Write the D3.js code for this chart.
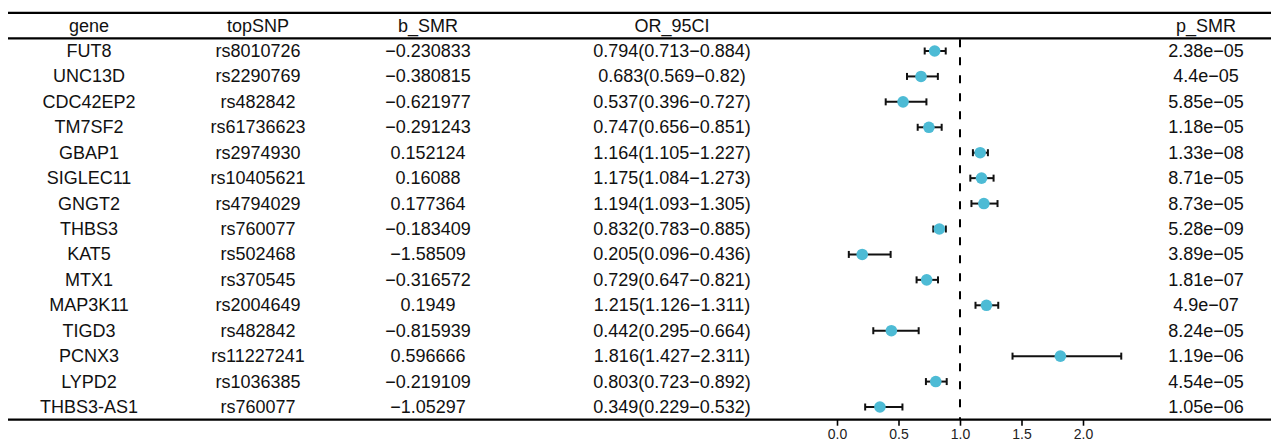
<!DOCTYPE html>
<html><head><meta charset="utf-8">
<script src="https://cdn.jsdelivr.net/npm/d3@7"></script>
<style>body{margin:0;background:#fff}svg{display:block}text{font-family:"Liberation Sans",Arial,sans-serif}</style>
</head><body><svg id="c" width="1271" height="442"></svg>
<script>
const headers = ["gene","topSNP","b_SMR","OR_95CI","","p_SMR"];
const genes = ["FUT8","UNC13D","CDC42EP2","TM7SF2","GBAP1","SIGLEC11","GNGT2","THBS3","KAT5","MTX1","MAP3K11","TIGD3","PCNX3","LYPD2","THBS3-AS1"];
const snps = ["rs8010726","rs2290769","rs482842","rs61736623","rs2974930","rs10405621","rs4794029","rs760077","rs502468","rs370545","rs2004649","rs482842","rs11227241","rs1036385","rs760077"];
const bSMR = [-0.230833,-0.380815,-0.621977,-0.291243,0.152124,0.16088,0.177364,-0.183409,-1.58509,-0.316572,0.1949,-0.815939,0.596666,-0.219109,-1.05297];
const orVal = [0.794,0.683,0.537,0.747,1.164,1.175,1.194,0.832,0.205,0.729,1.215,0.442,1.816,0.803,0.349];
const orLo = [0.713,0.569,0.396,0.656,1.105,1.084,1.093,0.783,0.096,0.647,1.126,0.295,1.427,0.723,0.229];
const orHi = [0.884,0.82,0.727,0.851,1.227,1.273,1.305,0.885,0.436,0.821,1.311,0.664,2.311,0.892,0.532];
const pSMR = ["2.38e-05","4.4e-05","5.85e-05","1.18e-05","1.33e-08","8.71e-05","8.73e-05","5.28e-09","3.89e-05","1.81e-07","4.9e-07","8.24e-05","1.19e-06","4.54e-05","1.05e-06"];
const xTicks = [0,0.5,1,1.5,2];

const minus = s => String(s).replace(/-/g, "\u2212");
const svg = d3.select("#c");
const W = 1271;
const y = d3.scalePoint().domain(d3.range(genes.length)).range([51, 407]);
const step = y.step();
const x = d3.scaleLinear().domain([0, 2]).range([837, 1083]);
const colX = [89, 258, 428, 672, null, 1206];
const fs = 18;

// horizontal rules
const topY = y(0) - step * 1.5, headY = y(0) - step / 2, botY = y(genes.length - 1) + step / 2;
svg.append("line").attr("x1", 8).attr("x2", W).attr("y1", topY).attr("y2", topY).attr("stroke", "#000").attr("stroke-width", 2.2);
svg.append("line").attr("x1", 8).attr("x2", W).attr("y1", headY).attr("y2", headY).attr("stroke", "#000").attr("stroke-width", 2.2);

// headers
headers.forEach((h, j) => {
  if (!h) return;
  svg.append("text").attr("x", colX[j]).attr("y", y(0) - step).attr("text-anchor", "middle")
    .attr("dominant-baseline", "central").attr("font-size", fs).attr("fill", "#111").text(h);
});

// rows
const rows = genes.map((g, i) => [g, snps[i], minus(bSMR[i]), `${orVal[i]}(${orLo[i]}\u2212${orHi[i]})`, null, minus(pSMR[i])]);
rows.forEach((r, i) => {
  r.forEach((t, j) => {
    if (t === null) return;
    svg.append("text").attr("x", colX[j]).attr("y", y(i)).attr("text-anchor", "middle")
      .attr("dominant-baseline", "central").attr("font-size", fs).attr("fill", "#111").text(t);
  });
});

// reference line
svg.append("line").attr("x1", x(1)).attr("x2", x(1)).attr("y1", headY + 1).attr("y2", botY)
  .attr("stroke", "#000").attr("stroke-width", 2).attr("stroke-dasharray", "8,10");

// error bars
const g = svg.append("g");
d3.range(genes.length).forEach(i => {
  const yy = y(i);
  g.append("line").attr("x1", x(orLo[i])).attr("x2", x(orHi[i])).attr("y1", yy).attr("y2", yy).attr("stroke", "#111").attr("stroke-width", 2);
  [orLo[i], orHi[i]].forEach(v => g.append("line").attr("x1", x(v)).attr("x2", x(v)).attr("y1", yy - 3.5).attr("y2", yy + 3.5).attr("stroke", "#111").attr("stroke-width", 2));
  g.append("circle").attr("cx", x(orVal[i])).attr("cy", yy).attr("r", 5.8).attr("fill", "#4DBBD5");
});

// bottom axis
svg.append("line").attr("x1", 8).attr("x2", W).attr("y1", botY).attr("y2", botY).attr("stroke", "#000").attr("stroke-width", 2.2);
const ax = svg.append("g").attr("transform", `translate(0,${botY})`)
  .call(d3.axisBottom(x).tickValues(xTicks).tickFormat(d3.format(".1f")).tickSize(6).tickPadding(5));
ax.select(".domain").remove();
ax.selectAll(".tick line").attr("stroke", "#000").attr("stroke-width", 1.6);
ax.selectAll(".tick text").attr("font-size", 14).attr("fill", "#222").attr("font-family", "Liberation Sans, Arial, sans-serif")
  .attr("dy", null).attr("y", 14).attr("dominant-baseline", "central");
</script></body></html>
